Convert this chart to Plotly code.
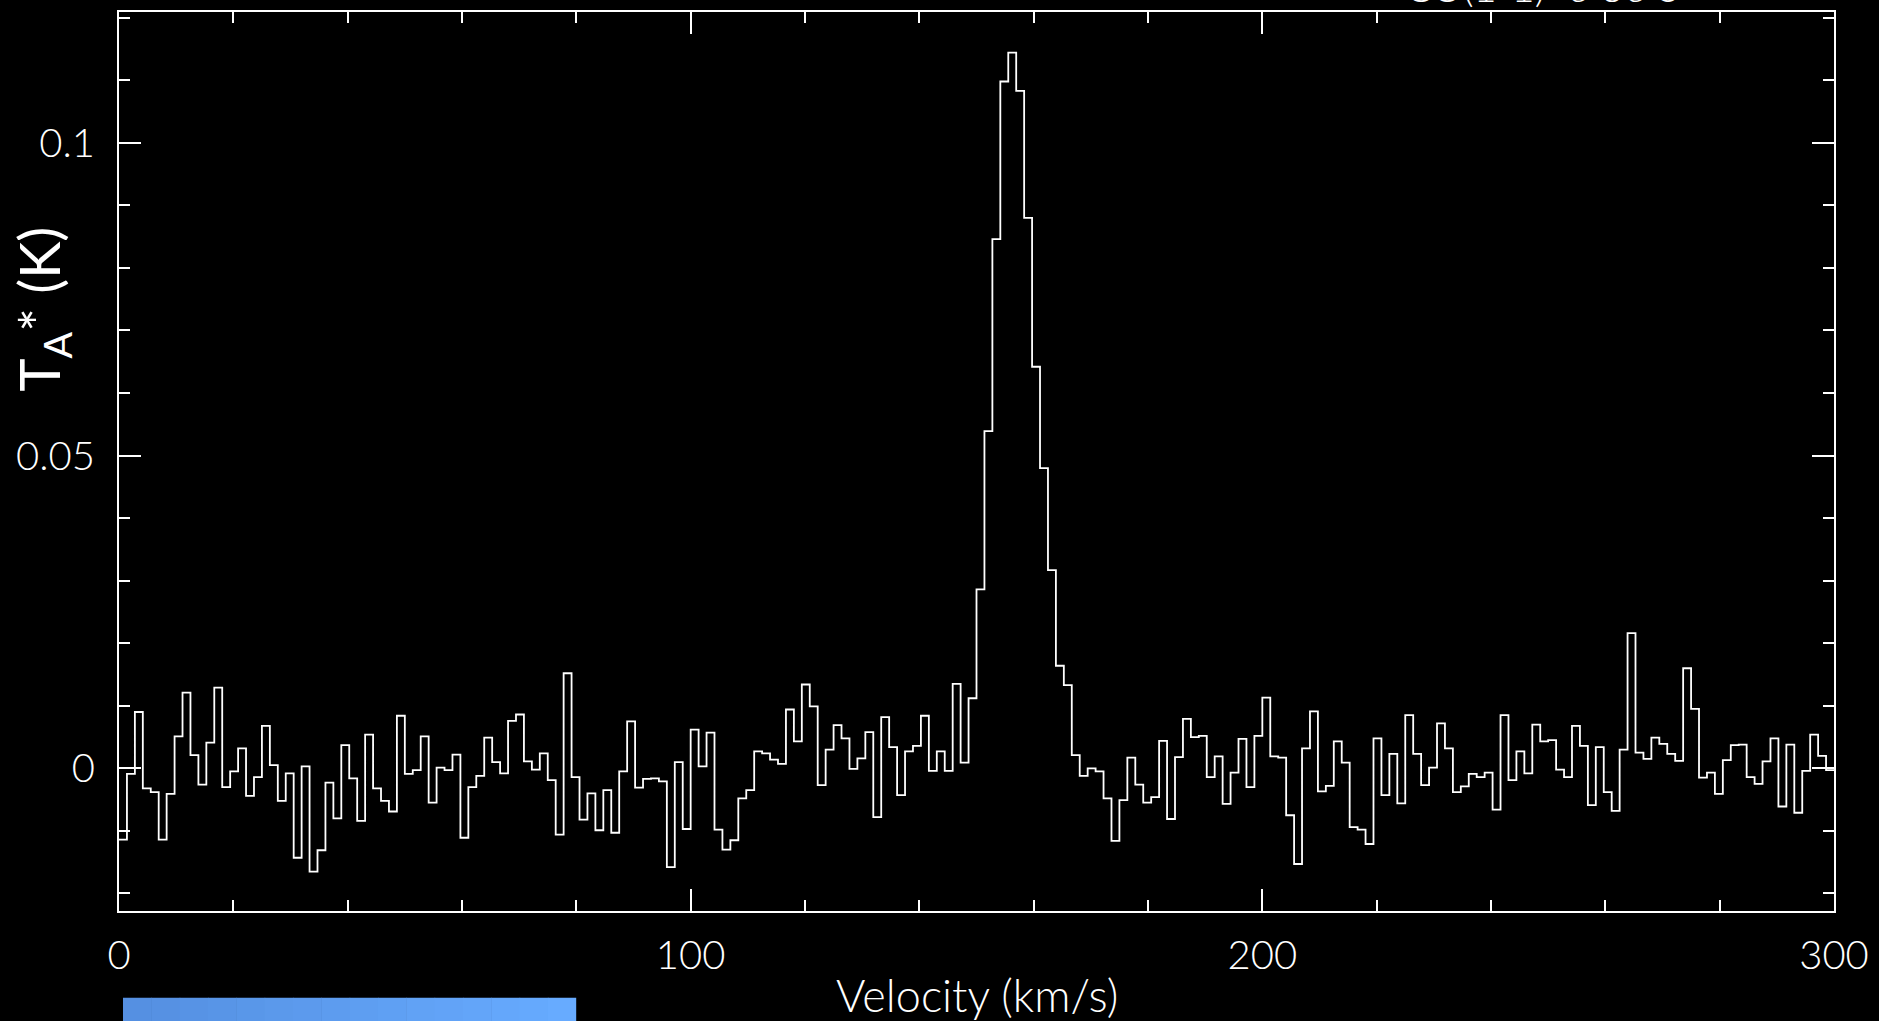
import numpy as np
import plotly.graph_objects as go

# ---------------- data ----------------
V_MIN, V_MAX = 0.0, 300.0          # velocity span of the spectrum (km/s)
N_CHANNELS = 216                   # number of spectral channels

# antenna temperature per channel (K)
ta = [
    -0.0114, -0.0009, 0.0090, -0.0032, -0.0038, -0.0114, -0.0041, 0.0051, 0.0121, 0.0021,
    -0.0026, 0.0041, 0.0129, -0.0030, -0.0005, 0.0032, -0.0044, -0.0014, 0.0068, 0.0005,
    -0.0052, -0.0008, -0.0143, 0.0003, -0.0165, -0.0131, -0.0023, -0.0080, 0.0037, -0.0016,
    -0.0084, 0.0054, -0.0032, -0.0052, -0.0069, 0.0084, -0.0009, -0.0003, 0.0051, -0.0055,
    0.0001, -0.0003, 0.0022, -0.0111, -0.0030, -0.0012, 0.0049, 0.0010, -0.0008, 0.0076,
    0.0086, 0.0011, -0.0002, 0.0024, -0.0019, -0.0106, 0.0152, -0.0014, -0.0082, -0.0040,
    -0.0099, -0.0035, -0.0103, -0.0005, 0.0075, -0.0031, -0.0017, -0.0016, -0.0021, -0.0158,
    0.0010, -0.0097, 0.0062, 0.0003, 0.0057, -0.0098, -0.0130, -0.0115, -0.0048, -0.0035,
    0.0027, 0.0024, 0.0014, 0.0007, 0.0094, 0.0043, 0.0134, 0.0099, -0.0027, 0.0030,
    0.0069, 0.0048, -0.0001, 0.0016, 0.0058, -0.0078, 0.0082, 0.0034, -0.0043, 0.0027,
    0.0036, 0.0084, -0.0004, 0.0027, -0.0004, 0.0135, 0.0009, 0.0112, 0.0286, 0.0539,
    0.0846, 0.1098, 0.1144, 0.1083, 0.0880, 0.0642, 0.0480, 0.0317, 0.0164, 0.0133,
    0.0021, -0.0012, 0.0000, -0.0005, -0.0048, -0.0116, -0.0051, 0.0017, -0.0026, -0.0055,
    -0.0046, 0.0044, -0.0081, 0.0018, 0.0079, 0.0050, 0.0052, -0.0014, 0.0019, -0.0057,
    -0.0007, 0.0047, -0.0030, 0.0052, 0.0113, 0.0019, 0.0017, -0.0075, -0.0153, 0.0032,
    0.0091, -0.0037, -0.0028, 0.0043, 0.0009, -0.0094, -0.0098, -0.0121, 0.0048, -0.0043,
    0.0023, -0.0056, 0.0085, 0.0023, -0.0027, 0.0001, 0.0072, 0.0032, -0.0038, -0.0029,
    -0.0009, -0.0014, -0.0007, -0.0066, 0.0085, -0.0019, 0.0027, -0.0008, 0.0070, 0.0043,
    0.0045, -0.0002, -0.0014, 0.0068, 0.0036, -0.0059, 0.0034, -0.0038, -0.0068, 0.0030,
    0.0216, 0.0025, 0.0015, 0.0049, 0.0039, 0.0023, 0.0012, 0.0160, 0.0095, -0.0015,
    -0.0007, -0.0041, 0.0013, 0.0037, 0.0038, -0.0014, -0.0025, 0.0011, 0.0048, -0.0061,
    0.0038, -0.0071, -0.0004, 0.0054, 0.0020, -0.0003,
]

x_tick_vals = [0, 100, 200, 300]
x_tick_text = ["0", "100", "200", "300"]
y_tick_vals = [0, 0.05, 0.1]
y_tick_text = ["0", "0.05", "0.1"]

x_title = "Velocity (km/s)"
y_title = "T<sub>A</sub>* (K)"
top_title = "CO(1-1)  6 36 S"

# ---------------- figure ----------------
edges = np.linspace(V_MIN, V_MAX, N_CHANNELS + 1)
xs = list(edges)
ys = list(ta) + [ta[-1]]

W, H = 1879, 1021
ML, MR, MT, MB = 119, 42, 10, 110

FONT = "Lato"
fig = go.Figure()
fig.add_trace(go.Scatter(
    x=xs, y=ys, mode="lines", line=dict(shape="hv", color="white", width=1.8),
    hoverinfo="skip", showlegend=False,
))

axis_common = dict(
    showgrid=False, zeroline=False, showline=True, linecolor="white", linewidth=2,
    mirror="allticks", ticks="inside", tickcolor="white", tickwidth=1.5,
    tickfont=dict(family=FONT, size=40, color="white", weight=300),
)

fig.update_xaxes(
    range=[V_MIN, V_MAX], tickvals=x_tick_vals, ticktext=x_tick_text, ticklen=22,
    ticklabelstandoff=8,
    minor=dict(dtick=20, ticklen=11, ticks="inside", tickcolor="white", tickwidth=1.5,
               showgrid=False),
    **axis_common,
)
fig.update_yaxes(
    range=[-0.02281, 0.12091], tickvals=y_tick_vals, ticktext=y_tick_text, ticklen=22,
    ticklabelstandoff=14,
    minor=dict(dtick=0.01, tick0=0, ticklen=11, ticks="inside", tickcolor="white",
               tickwidth=1.5, showgrid=False),
    **axis_common,
)

pw = W - ML - MR
ph = H - MT - MB

def px_to_paper_x(px):
    return (px - ML) / pw

def px_to_paper_y(py):
    return (H - MB - py) / ph

annotations = [
    dict(text=x_title, x=0.5, y=px_to_paper_y(995), xref="paper", yref="paper",
         showarrow=False, xanchor="center", yanchor="middle",
         font=dict(family=FONT, size=45, color="white", weight=300)),
    dict(text=y_title, x=px_to_paper_x(42), y=px_to_paper_y(308), xref="paper", yref="paper",
         showarrow=False, xanchor="center", yanchor="middle", textangle=-90,
         font=dict(family=FONT, size=56, color="white")),
    dict(text=top_title, x=px_to_paper_x(1405), y=px_to_paper_y(11), xref="paper", yref="paper",
         showarrow=False, xanchor="left", yanchor="bottom",
         font=dict(family=FONT, size=40, color="white", weight=300)),
]

# blue bar at the bottom-left (gradient made from strips)
shapes = []
bar_x0, bar_x1 = 123, 577
n_strips = 16
c0 = np.array([0x55, 0x90, 0xE2])
c1 = np.array([0x67, 0xAB, 0xFF])
for i in range(n_strips):
    f = i / (n_strips - 1)
    c = (c0 * (1 - f) + c1 * f).astype(int)
    xa = bar_x0 + (bar_x1 - bar_x0) * i / n_strips
    xb = bar_x0 + (bar_x1 - bar_x0) * (i + 1) / n_strips + 0.6
    shapes.append(dict(type="rect", xref="paper", yref="paper",
                       x0=px_to_paper_x(xa), x1=px_to_paper_x(min(xb, bar_x1)),
                       y0=px_to_paper_y(998), y1=px_to_paper_y(1030),
                       fillcolor="rgb(%d,%d,%d)" % tuple(c), line=dict(width=0),
                       layer="above"))

fig.update_layout(
    width=W, height=H, margin=dict(l=ML, r=MR, t=MT, b=MB, pad=0),
    paper_bgcolor="black", plot_bgcolor="black",
    annotations=annotations, shapes=shapes, showlegend=False,
)

fig.write_html("out.html", config={"displayModeBar": False})
